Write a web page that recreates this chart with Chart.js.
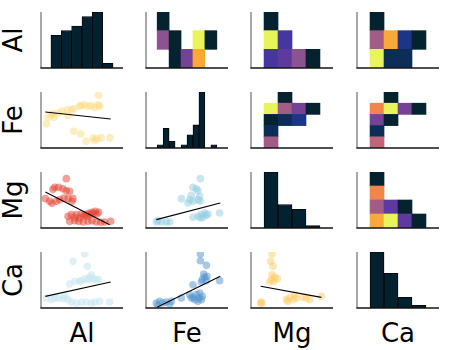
<!DOCTYPE html>
<html><head><meta charset="utf-8">
<script src="https://cdn.jsdelivr.net/npm/chart.js@4.4.0/dist/chart.umd.min.js"></script>
<style>
html,body{margin:0;padding:0;background:#fff;}
#fig{position:relative;width:450px;height:350px;overflow:hidden;font-family:"DejaVu Sans",sans-serif;}
.lab{position:absolute;font-size:26px;line-height:26px;color:#000;text-align:center;white-space:nowrap;}
</style></head><body><div id="fig"></div>
<script>
// ---------------- data ----------------
const variables = ['Al', 'Fe', 'Mg', 'Ca'];

// diagonal histograms (counts per bin)
const histAl = [7, 8, 9, 11, 12, 1];
const histFe = [1, 6, 2, 0, 1, 4, 7, 17, 0, 1];
const histMg = [24, 10, 8, 1];
const histCa = [21, 13, 4, 1];

// upper-triangle 2D histograms: colour level per cell (rows listed top to bottom, 0 = empty)
const heatAlFe = [[1,0,0,0,0],[7,1,0,12,1],[0,1,6,11,0]];
const heatAlMg = [[1,0,0,0],[12,4,0,0],[4,5,7,1]];
const heatAlCa = [[1,0,0,0],[8,11,3,1],[12,2,2,0]];
const heatFeMg = [[0,1,0,0],[12,8,6,1],[1,2,3,0],[2,0,0,0],[8,0,0,0]];
const heatFeCa = [[0,1,0,0],[10,12,6,1],[6,1,0,0],[2,0,0,0],[9,0,0,0]];
const heatMgCa = [[1,0,0,0],[10,0,0,0],[8,5,1,0],[11,12,5,1]];
const heatPalette = ['#05222f','#0b2d57','#1c3585','#4536a0','#5e3a9e','#734396','#8b538f','#a35c85','#c0647a','#f4844a','#fba83a','#e8f55a'];

// lower-triangle scatters [x, y] in normalised units (0-100)
const scatterAlFe = [[70,94],[6.5,43],[12.5,59.5],[16,55],[14.5,61],[8.5,55],[21,62.5],[25.5,65.5],[32,68],[33,58],[37,68],[40,70],[47,74.5],[49,76],[53,77],[57,74],[61,76],[65.5,72.5],[69.5,77],[71.5,74.5],[40,30],[48.5,25],[55,12],[63.5,18],[65.5,13.5],[68.5,16.5],[73.5,18],[84,18]];
const scatterAlMg = [[30.9,88.1],[16.7,72.6],[14.6,69],[21.5,72.6],[26.8,70.2],[30.9,66.6],[35,65.4],[5.3,52.4],[10.6,47.6],[13.4,44],[18.7,47.6],[22.8,50.6],[28,53.6],[33,52.4],[37.8,47.6],[39,52.4],[33,20.8],[37,23.8],[43.1,23.8],[49.2,25],[54.1,23.8],[58.1,26.2],[62.2,28],[66.3,29.8],[70.3,28],[35,11.9],[41.1,13.1],[46,11.9],[51.6,10.7],[57.3,11.9],[62.2,13.1],[67.5,10.7],[72.8,10.1],[77.6,10.7],[85,11.9],[41.1,19],[47.2,17.8],[56.5,20.8],[60,24],[64,26],[68,25],[52,22]];
const scatterAlCa = [[53.3,96.4],[39,83.3],[56.5,74.4],[61.4,59.5],[57.3,50.6],[49.2,48.8],[53.3,52.4],[63.4,52.4],[67.5,50.6],[70.3,50.6],[41.1,47.6],[35,42.9],[47.2,47.6],[59.4,54.7],[6.5,17.9],[12.6,14.9],[20.7,17.9],[26.8,16.7],[33,14.9],[37,10.7],[43.1,8.9],[49.2,10.1],[55.3,10.7],[61.4,8.9],[65.5,10.7],[71.5,11.9],[83.7,10.7],[16.7,17.9],[28.9,20.8]];
const scatterFeMg = [[66.3,88.1],[57.3,72.6],[61.4,70.2],[63.4,66.6],[43.1,52.4],[53.3,50.6],[57.3,47.6],[63.4,50.6],[66.3,47.6],[55.3,58.3],[65.5,56.5],[51.2,44.6],[57.3,19],[63.4,20.8],[67.5,23.8],[71.5,26.8],[73.6,22.6],[69.5,19],[89.8,26.8],[66.3,17.9],[75.6,25],[12.6,10.7],[18.7,10.7],[24.8,10.7],[28.9,10.7],[14.6,13.1]];
const scatterFeCa = [[66.3,96.4],[66.3,84.5],[73.6,76.2],[70.3,60.7],[71.5,54.7],[68.7,50.6],[73.6,48.8],[67.5,46.4],[74.4,56.5],[89.8,48.8],[57.3,41.6],[43.1,17.9],[53.3,23.8],[57.3,19],[61.4,23.8],[64.6,17.9],[67.5,14.9],[63.4,11.9],[59.4,14.9],[68.7,20.8],[55.3,17.9],[65.5,26.8],[12.6,8.9],[16.7,11.9],[20.7,8.9],[24.8,10.7],[28.9,7.1],[14.6,4.8],[30.9,11.9]];
const scatterMgCa = [[25.6,96.4],[24,83.3],[26.8,74.4],[25.6,59.5],[28.9,54.7],[24.8,50.6],[22.8,46.4],[32.1,52.4],[28,47.6],[12.6,10.7],[11.8,8],[13,9],[43.1,14.9],[47.2,19],[51.2,14.9],[55.3,17.9],[45.1,11.9],[67.5,17.9],[71.5,14.9],[63.4,19],[85.8,20.8],[53.3,23.8]];

// regression lines [x0, y0, x1, y1]
const lineAlFe = [5.3, 64.3, 85, 51.8];
const lineAlMg = [5.3, 64.3, 83.7, 5.9];
const lineAlCa = [5.3, 20.8, 85, 46.4];
const lineFeMg = [12.6, 14.9, 90.6, 44.6];
const lineFeCa = [13.4, 1.2, 90.6, 56.5];
const lineMgCa = [11.8, 38.7, 85.8, 19];

// ---------------- layout ----------------
const colLeft = [41, 146, 251, 357], rowTop = [12, 92, 172, 252], W = 82, H = 56, PAD = 6;
const fig = document.getElementById('fig');

const spines = {
  id: 'spines',
  afterDraw(chart) {
    const {ctx, chartArea: {left, right, top, bottom}} = chart;
    ctx.save();
    ctx.strokeStyle = '#6e6e6e'; ctx.lineWidth = 1.2;
    ctx.beginPath(); ctx.moveTo(left, top); ctx.lineTo(left, bottom); ctx.stroke();
    ctx.strokeStyle = '#151515'; ctx.lineWidth = 1.6;
    ctx.beginPath(); ctx.moveTo(left - 0.6, bottom); ctx.lineTo(right, bottom); ctx.stroke();
    ctx.restore();
  }
};

function integerTicks(n) {
  return scale => { scale.ticks = Array.from({length: n}, (_, i) => ({value: i})); };
}

function place(r, c, config) {
  const cv = document.createElement('canvas');
  cv.width = W + 2 * PAD; cv.height = H + 2 * PAD;
  Object.assign(cv.style, {position: 'absolute', left: (colLeft[c] - PAD) + 'px', top: (rowTop[r] - PAD) + 'px', width: cv.width + 'px', height: cv.height + 'px'});
  fig.appendChild(cv);
  config.options = Object.assign({
    responsive: false, animation: false, devicePixelRatio: 1, events: [],
    layout: {padding: PAD},
    plugins: {legend: {display: false}, tooltip: {enabled: false}}
  }, config.options);
  config.plugins = [spines];
  new Chart(cv, config);
}

function histConfig(counts) {
  const n = counts.length;
  return {
    type: 'bar',
    data: {datasets: [{
      data: counts.map((v, i) => ({x: i, y: v})),
      backgroundColor: '#04212f', borderColor: '#000', borderWidth: 0.8, borderSkipped: false,
      barPercentage: 1, categoryPercentage: 1
    }]},
    options: {scales: {
      x: {type: 'linear', display: false, min: -0.5 - 0.05 * n, max: n - 0.5 + 0.05 * n, afterBuildTicks: integerTicks(n)},
      y: {display: false, min: 0, max: Math.max(...counts)}
    }}
  };
}

function heatConfig(grid) {
  const nr = grid.length, nc = grid[0].length;
  const datasets = grid.slice().reverse().map(row => ({
    data: row.map((v, i) => ({x: i, y: 1})),
    backgroundColor: row.map(v => v ? heatPalette[v - 1] : 'rgba(0,0,0,0)'),
    borderWidth: 0, barPercentage: 1, categoryPercentage: 1, stack: 's'
  }));
  return {
    type: 'bar',
    data: {datasets},
    options: {scales: {
      x: {type: 'linear', stacked: true, display: false, min: -0.5 - 0.05 * nc, max: nc - 0.5 + 0.05 * nc, afterBuildTicks: integerTicks(nc)},
      y: {stacked: true, display: false, min: 0, max: nr}
    }}
  };
}

function scatterConfig(points, line, color) {
  return {
    type: 'scatter',
    data: {datasets: [
      {type: 'line', data: [{x: line[0], y: line[1]}, {x: line[2], y: line[3]}], borderColor: '#000', borderWidth: 1.1, pointRadius: 0, fill: false, tension: 0},
      {data: points.map(p => ({x: p[0], y: p[1]})), backgroundColor: color, pointBackgroundColor: color, borderColor: 'rgba(0,0,0,0)', pointBorderWidth: 0, pointRadius: 3.8}
    ]},
    options: {scales: {
      x: {type: 'linear', display: false, min: 0, max: 100},
      y: {type: 'linear', display: false, min: 0, max: 100}
    }}
  };
}

// diagonal
place(0, 0, histConfig(histAl));
place(1, 1, histConfig(histFe));
place(2, 2, histConfig(histMg));
place(3, 3, histConfig(histCa));
// upper
place(0, 1, heatConfig(heatAlFe));
place(0, 2, heatConfig(heatAlMg));
place(0, 3, heatConfig(heatAlCa));
place(1, 2, heatConfig(heatFeMg));
place(1, 3, heatConfig(heatFeCa));
place(2, 3, heatConfig(heatMgCa));
// lower
place(1, 0, scatterConfig(scatterAlFe, lineAlFe, 'rgba(251,219,129,0.5)'));
place(2, 0, scatterConfig(scatterAlMg, lineAlMg, 'rgba(228,65,50,0.5)'));
place(3, 0, scatterConfig(scatterAlCa, lineAlCa, 'rgba(197,229,241,0.55)'));
place(2, 1, scatterConfig(scatterFeMg, lineFeMg, 'rgba(145,205,225,0.5)'));
place(3, 1, scatterConfig(scatterFeCa, lineFeCa, 'rgba(81,147,205,0.5)'));
place(3, 2, scatterConfig(scatterMgCa, lineMgCa, 'rgba(251,205,103,0.5)'));

// labels
variables.forEach((v, i) => {
  const col = document.createElement('div');
  col.className = 'lab'; col.textContent = v;
  Object.assign(col.style, {left: colLeft[i] + 'px', top: '319.5px', width: W + 'px'});
  fig.appendChild(col);
  const row = document.createElement('div');
  row.className = 'lab'; row.textContent = v;
  Object.assign(row.style, {left: (12.5 - 28) + 'px', top: (rowTop[i] + H / 2 - 13) + 'px', width: '56px', height: '26px', transform: 'rotate(-90deg)'});
  fig.appendChild(row);
});
</script></body></html>
